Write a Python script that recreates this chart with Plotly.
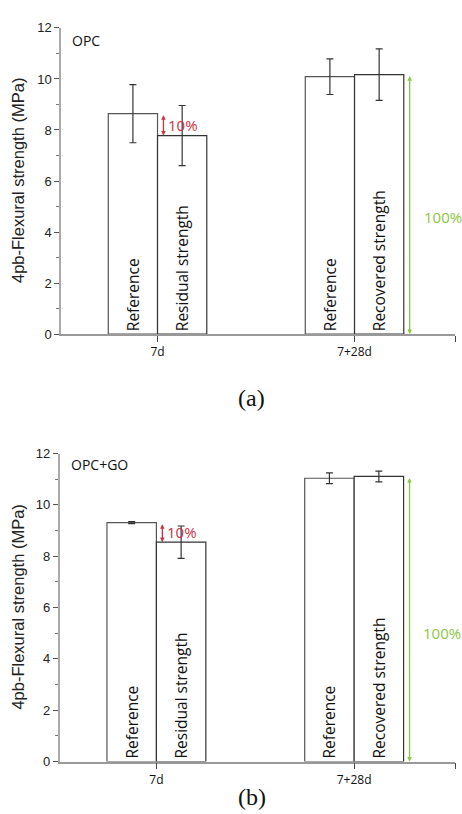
import plotly.graph_objects as go

# ---------------- data ----------------
categories = ["7d", "7+28d"]
ref_labels = ["Reference", "Reference"]
second_labels = ["Residual strength", "Recovered strength"]

opc_ref = [8.64, 10.09]
opc_ref_err = [1.14, 0.70]
opc_second = [7.78, 10.17]
opc_second_err = [1.18, 1.01]

go_ref = [9.31, 11.04]
go_ref_err = [0.04, 0.21]
go_second = [8.55, 11.11]
go_second_err = [0.63, 0.21]

panel_names = ["OPC", "OPC+GO"]
panel_captions = ["(a)", "(b)"]
loss_label = "10%"
full_label = "100%"
y_title = "4pb-Flexural strength (MPa)"
y_ticks = [0, 2, 4, 6, 8, 10, 12]

# ---------------- figure ----------------
W, H = 462, 814
xpos = list(range(len(categories)))
fig = go.Figure()

BAR_FONT = dict(family="Open Sans", size=15.5, color="#111")
RED = "#cc3340"
GREEN = "#8cc63f"

panels = [
    dict(ref=opc_ref, ref_err=opc_ref_err, sec=opc_second, sec_err=opc_second_err,
         xa="x", ya="y", xdom=[61 / W, 455 / W], ydom=[1 - 333.3 / H, 1 - 21.3 / H],
         name_y=0.96, cap_y=1 - 398 / H),
    dict(ref=go_ref, ref_err=go_ref_err, sec=go_second, sec_err=go_second_err,
         xa="x2", ya="y2", xdom=[59.5 / W, 455 / W], ydom=[1 - 768.7 / H, 1 - 455 / H],
         name_y=0.965, cap_y=1 - 805 / H),
]

annotations = []
for i, p in enumerate(panels):
    for vals, errs, labels, lc, og in [
        (p["ref"], p["ref_err"], ref_labels, "#555", "a"),
        (p["sec"], p["sec_err"], second_labels, "#333", "b"),
    ]:
        fig.add_trace(go.Bar(
            x=xpos, y=vals, xaxis=p["xa"], yaxis=p["ya"], offsetgroup=og,
            marker=dict(color="white", line=dict(color=lc, width=1.2)),
            error_y=dict(type="data", array=errs, visible=True, color="#333",
                         thickness=1.2, width=3.5),
            text=labels, textposition="inside", textangle=-90,
            insidetextanchor="start", insidetextfont=BAR_FONT,
            showlegend=False, cliponaxis=False, hoverinfo="skip",
        ))

    xref, yref = p["xa"], p["ya"]
    # 10% double arrow between reference and residual (first category)
    annotations.append(dict(
        x=xpos[0] + 0.03, y=p["sec"][0], ax=xpos[0] + 0.03, ay=p["ref"][0],
        xref=xref, yref=yref, axref=xref, ayref=yref, text="",
        showarrow=True, arrowside="end+start", arrowhead=2, arrowsize=0.7,
        arrowwidth=1.3, arrowcolor=RED, standoff=0, startstandoff=0,
    ))
    annotations.append(dict(
        x=xpos[0] + 0.045, y=(p["sec"][0] + p["ref"][0]) / 2, xref=xref, yref=yref,
        text=loss_label, showarrow=False, xanchor="left", yanchor="middle",
        font=dict(family="Open Sans", size=15, color=RED),
    ))
    # 100% double arrow along recovered bar
    annotations.append(dict(
        x=xpos[1] + 0.28, y=0, ax=xpos[1] + 0.28, ay=p["sec"][1],
        xref=xref, yref=yref, axref=xref, ayref=yref, text="",
        showarrow=True, arrowside="end+start", arrowhead=2, arrowsize=0.7,
        arrowwidth=1.3, arrowcolor=GREEN, standoff=0, startstandoff=0,
    ))
    annotations.append(dict(
        x=xpos[1] + 0.34, y=p["sec"][1] * 0.45, xref=xref, yref=yref,
        text=full_label, showarrow=False, xanchor="left", yanchor="middle",
        font=dict(family="Open Sans", size=15, color=GREEN),
    ))
    # panel name
    annotations.append(dict(
        x=0.023, y=p["name_y"], xref=xref + " domain", yref=yref + " domain",
        text=panel_names[i], showarrow=False, xanchor="left", yanchor="middle",
        font=dict(family="Open Sans", size=14, color="#111"),
    ))
    # y-axis title
    annotations.append(dict(
        x=18 / W, y=(p["ydom"][0] + p["ydom"][1]) / 2, xref="paper", yref="paper",
        text=y_title, textangle=-90, showarrow=False, xanchor="center", yanchor="middle",
        font=dict(family="Liberation Sans, Arial", size=16.5, color="#222"),
    ))
    # caption
    annotations.append(dict(
        x=252 / W, y=p["cap_y"], xref="paper", yref="paper",
        text=panel_captions[i], showarrow=False, xanchor="center", yanchor="middle",
        font=dict(family="Liberation Serif, Times New Roman", size=24, color="#111"),
    ))

    xkey = "xaxis" if i == 0 else "xaxis2"
    ykey = "yaxis" if i == 0 else "yaxis2"
    fig.update_layout(**{
        xkey: dict(
            domain=p["xdom"], anchor=p["ya"], range=[-0.49, 1.51],
            tickmode="array", tickvals=xpos, ticktext=categories,
            showline=True, linecolor="#999", linewidth=1.5,
            ticks="outside", ticklen=6, tickcolor="#444", tickwidth=1,
            minor=dict(tickmode="array", tickvals=[1.51], ticks="outside",
                       ticklen=6, tickcolor="#444", tickwidth=1),
            showgrid=False, zeroline=False,
            tickfont=dict(family="Open Sans", size=12, color="#111"),
        ),
        ykey: dict(
            domain=p["ydom"], anchor=p["xa"], range=[0, 12],
            tickmode="array", tickvals=y_ticks,
            showline=True, linecolor="#aaa", linewidth=1.5,
            ticks="outside", ticklen=5, tickcolor="#555", tickwidth=1,
            minor=dict(dtick=1, ticks="outside", ticklen=3, tickcolor="#777", tickwidth=1),
            showgrid=False, zeroline=False,
            tickfont=dict(family="Liberation Sans, Arial", size=13, color="#222"),
        ),
    })

fig.update_layout(
    width=W, height=H, margin=dict(l=0, r=0, t=0, b=0),
    paper_bgcolor="white", plot_bgcolor="white",
    barmode="group", bargap=0.5, bargroupgap=0,
    annotations=annotations,
)

fig.write_html(
    "out.html",
    config={"displayModeBar": False},
    post_script="document.body.style.margin='0';document.body.style.padding='0';",
)
